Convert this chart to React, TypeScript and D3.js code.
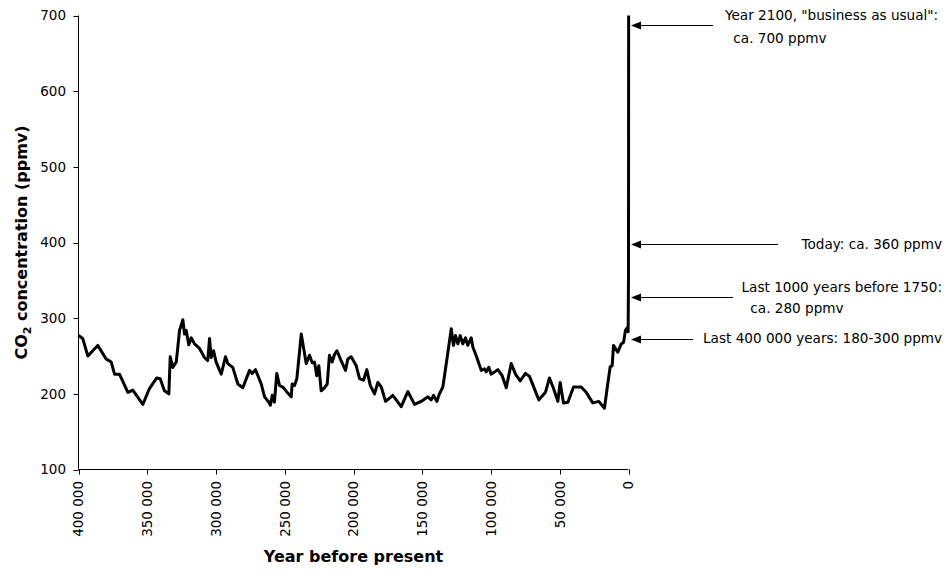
import React from "react";
import * as d3 from "d3";

const years: number[] = [
  400000, 396900, 393200, 386000, 379900, 376200, 373800, 370200, 364100, 360500,
  353200, 348400, 343100, 340600, 337500, 334300, 333300, 331400, 328900, 326500,
  324100, 322900, 321700, 319800, 318000, 315600, 312000, 308400, 306000, 304700,
  303500, 301800, 299900, 296200, 293100, 291400, 287800, 284100, 280500, 275600,
  273700, 271300, 267100, 264700, 261600, 260400, 259100, 257500, 255800, 253800,
  251400, 247800, 245300, 244600, 242900, 241200, 238000, 234400, 232000, 230000,
  228400, 226700, 225200, 223500, 221100, 219100, 217500, 215500, 213800, 212100,
  209000, 205800, 204100, 201700, 198000, 195600, 192700, 190300, 187800, 184700,
  182300, 179800, 176700, 171400, 165300, 160500, 155600, 150800, 145900, 143500,
  141800, 139400, 137500, 135000, 132200, 128900, 127300, 125800, 124100, 122400,
  120500, 118500, 116900, 114400, 113200, 110300, 107100, 104700, 103500, 101600,
  99900, 95000, 91900, 88900, 85300, 82200, 78800, 74900, 72000, 65200,
  60400, 57500, 54500, 51400, 49700, 47300, 44100, 40000, 34400, 30800,
  26000, 21600, 17500, 15100, 13300, 11900, 10900, 7800, 5300, 3600,
  2200, 500, 250, 0, -100,
];

const co2: number[] = [
  277, 273, 250, 264, 246, 242, 226, 226, 202, 205,
  186, 207, 221, 220, 204, 200, 249, 235, 242, 284,
  298, 279, 284, 265, 274, 266, 260, 248, 244, 273,
  248, 257, 242, 226, 249, 240, 235, 213, 208, 231,
  227, 232, 213, 196, 189, 185, 198, 189, 227, 211,
  209, 201, 196, 213, 211, 220, 279, 240, 251, 241,
  242, 224, 237, 204, 208, 213, 251, 242, 252, 257,
  244, 231, 246, 249, 237, 220, 218, 232, 211, 200,
  215, 209, 190, 198, 183, 203, 186, 190, 196, 192,
  198, 190, 200, 209, 244, 286, 264, 277, 266, 277,
  266, 274, 264, 274, 262, 248, 231, 233, 229, 235,
  226, 232, 224, 208, 240, 226, 217, 227, 223, 192,
  202, 221, 207, 190, 215, 188, 189, 209, 209, 202,
  188, 190, 181, 213, 236, 237, 264, 255, 266, 268,
  284, 288, 282, 360, 700,
];

const xTicks: number[] = [400000, 350000, 300000, 250000, 200000, 150000, 100000, 50000, 0];
const yTicks: number[] = [100, 200, 300, 400, 500, 600, 700];

const annotationLines: string[][] = [
  ["Year 2100, \"business as usual\":", " ca. 700 ppmv"],
  ["Today: ca. 360 ppmv"],
  ["Last 1000 years before 1750:", " ca. 280 ppmv"],
  ["Last 400 000 years: 180-300 ppmv"],
];
const annotationValues: number[] = [687, 398, 328, 273];

const W = 951;
const H = 576;
const FONT = "'DejaVu Sans', Verdana, sans-serif";

// layout for annotations (pixel positions of label boxes)
const annLayout = [
  { lineStart: 713, textX: [725, 729], textY: [15, 38] },
  { lineStart: 778, textX: [801.5], textY: [244] },
  { lineStart: 733, textX: [741.5, 746], textY: [287, 308.5] },
  { lineStart: 693, textX: [703], textY: [338.5] },
];

const fmtYear = (v: number) => {
  if (v === 0) return "0";
  const s = String(v);
  return s.slice(0, s.length - 3) + " " + s.slice(s.length - 3);
};

export default function App() {
  const x = d3.scaleLinear().domain([400000, 0]).range([78.5, 628.5]);
  const y = d3.scaleLinear().domain([100, 700]).range([469.5, 15.5]);

  const pts: [number, number][] = years.map((yr, i) => [yr, co2[i]]);
  const line = d3
    .line<[number, number]>()
    .x((d) => x(d[0]))
    .y((d) => y(d[1]));

  const tipX = 631;

  return (
    <svg width={W} height={H} style={{ position: "absolute", left: 0, top: 0, background: "#fff" }}>
      <rect x={0} y={0} width={W} height={H} fill="#fff" />
      {/* Y axis */}
      <line x1={78.5} x2={78.5} y1={y(700)} y2={y(100)} stroke="#000" strokeWidth={1} />
      {yTicks.map((t) => (
        <g key={"y" + t}>
          <line x1={73.5} x2={78.5} y1={Math.round(y(t)) + 0.5} y2={Math.round(y(t)) + 0.5} stroke="#000" />
          <text
            x={66}
            y={y(t)}
            dy="0.36em"
            textAnchor="end"
            fontFamily={FONT}
            fontSize={13.5}
            fill="#000"
          >
            {t}
          </text>
        </g>
      ))}
      {/* X axis */}
      <line x1={x(400000)} x2={x(0)} y1={469.5} y2={469.5} stroke="#000" strokeWidth={1} />
      {xTicks.map((t) => (
        <g key={"x" + t}>
          <line x1={Math.round(x(t)) + 0.5} x2={Math.round(x(t)) + 0.5} y1={469.5} y2={474.5} stroke="#000" />
          <text
            transform={`translate(${x(t)},481) rotate(-90)`}
            dy="0.36em"
            textAnchor="end"
            fontFamily={FONT}
            fontSize={13.5}
            fill="#000"
          >
            {fmtYear(t)}
          </text>
        </g>
      ))}
      {/* Data line */}
      <path
        d={line(pts) || ""}
        fill="none"
        stroke="#000"
        strokeWidth={3}
        strokeLinejoin="round"
        strokeLinecap="butt"
      />
      {/* Annotations */}
      {annotationLines.map((lines, i) => {
        const ay = Math.round(y(annotationValues[i])) + 0.5;
        const L = annLayout[i];
        return (
          <g key={"a" + i}>
            <line x1={L.lineStart} x2={tipX + 8} y1={ay} y2={ay} stroke="#000" strokeWidth={1} />
            <path d={`M${tipX},${ay} L${tipX + 10},${ay - 4} L${tipX + 10},${ay + 4} Z`} fill="#000" />
            {lines.map((s, j) => (
              <text
                key={j}
                x={L.textX[j]}
                y={L.textY[j]}
                dy="0.36em"
                fontFamily={FONT}
                fontSize={13.6}
                fill="#000"
                style={{ whiteSpace: "pre" }}
              >
                {s}
              </text>
            ))}
          </g>
        );
      })}
      {/* Axis titles */}
      <text
        transform={`translate(21,${(y(700) + y(100)) / 2}) rotate(-90)`}
        dy="0.36em"
        textAnchor="middle"
        fontFamily={FONT}
        fontSize={16}
        fontWeight="bold"
        fill="#000"
      >
        CO
        <tspan fontSize={11} dy="4">2</tspan>
        <tspan dy="-4"> concentration (ppmv)</tspan>
      </text>
      <text
        x={(x(400000) + x(0)) / 2}
        y={556}
        dy="0.36em"
        textAnchor="middle"
        fontFamily={FONT}
        fontSize={16}
        fontWeight="bold"
        fill="#000"
      >
        Year before present
      </text>
    </svg>
  );
}
